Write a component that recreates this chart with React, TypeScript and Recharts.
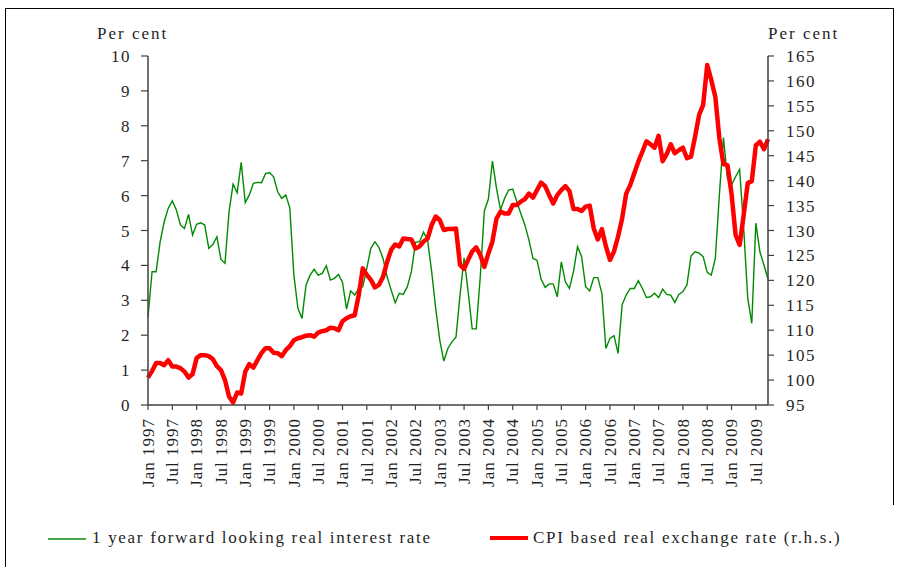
import { CartesianGrid, Line, LineChart, XAxis, YAxis } from "recharts";

const MONTHS = ["Jan", "Feb", "Mar", "Apr", "May", "Jun", "Jul", "Aug", "Sep", "Oct", "Nov", "Dec"];
const FIRST_YEAR = 1997;

// 1 year forward looking real interest rate, per cent (left axis), Jan 1997 - Oct 2009
const realRate = [
  2.53, 3.82, 3.82, 4.68, 5.25, 5.64, 5.85, 5.59, 5.16, 5.06, 5.46, 4.87,
  5.18, 5.22, 5.16, 4.49, 4.6, 4.82, 4.17, 4.06, 5.54, 6.33, 6.08, 6.95,
  5.8, 6.02, 6.35, 6.38, 6.37, 6.63, 6.66, 6.54, 6.11, 5.92, 6.02, 5.64,
  3.72, 2.77, 2.48, 3.44, 3.72, 3.89, 3.72, 3.77, 3.99, 3.58, 3.63, 3.74,
  3.51, 2.75, 3.27, 3.15, 3.34, 3.39, 3.92, 4.49, 4.68, 4.51, 4.2, 3.68,
  3.3, 2.93, 3.2, 3.17, 3.39, 3.82, 4.66, 4.68, 4.95, 4.73, 3.82, 2.77,
  1.86, 1.26, 1.62, 1.81, 1.94, 3.15, 4.22, 3.25, 2.18, 2.18, 3.68, 5.56,
  5.9, 6.99, 6.21, 5.59, 5.92, 6.16, 6.19, 5.83, 5.49, 5.16, 4.73, 4.2,
  4.15, 3.61, 3.37, 3.47, 3.47, 3.1, 4.1, 3.53, 3.34, 3.82, 4.54, 4.25,
  3.39, 3.27, 3.65, 3.65, 3.2, 1.62, 1.91, 1.99, 1.48, 2.87, 3.15, 3.34,
  3.34, 3.56, 3.34, 3.08, 3.1, 3.2, 3.08, 3.32, 3.17, 3.15, 2.94, 3.17,
  3.25, 3.44, 4.27, 4.39, 4.35, 4.25, 3.8, 3.72, 4.2, 6.02, 7.66, 6.49,
  6.3, 6.54, 6.75, 5.06, 3.06, 2.34, 5.21, 4.39, 4.01, 3.61,
];

// CPI based real exchange rate (right axis)
const realExchange = [
  100.5, 101.8, 103.4, 103.4, 103.0, 104.0, 102.7, 102.7, 102.4, 101.7, 100.5, 101.2,
  104.4, 105.0, 105.0, 104.8, 104.2, 102.8, 102.0, 100.0, 96.7, 95.5, 97.5, 97.3,
  101.7, 103.2, 102.5, 104.0, 105.4, 106.4, 106.4, 105.5, 105.4, 104.8, 106.0, 106.8,
  108.0, 108.4, 108.6, 108.9, 109.0, 108.7, 109.5, 109.8, 110.0, 110.5, 110.4, 110.0,
  111.8, 112.4, 112.8, 113.0, 117.0, 122.4, 121.1, 120.1, 118.6, 119.1, 120.7, 123.7,
  126.1, 127.2, 126.8, 128.4, 128.3, 128.2, 126.4, 126.8, 127.8, 128.4, 131.1, 132.8,
  132.1, 130.1, 130.3, 130.3, 130.4, 123.1, 122.3, 124.1, 125.8, 126.6, 125.1, 122.7,
  125.4, 127.8, 132.4, 133.8, 133.4, 133.4, 135.1, 135.1, 135.8, 136.3, 137.4, 136.6,
  138.1, 139.6, 138.9, 137.1, 135.4, 137.1, 138.1, 138.9, 137.9, 134.3, 134.3, 133.9,
  134.8, 135.0, 130.4, 128.2, 130.3, 126.8, 124.1, 125.8, 128.8, 132.4, 137.4, 139.1,
  141.5, 143.8, 145.8, 147.9, 147.3, 146.6, 149.0, 143.9, 145.3, 147.3, 145.5, 146.1,
  146.6, 144.5, 144.8, 148.8, 153.2, 155.2, 163.2, 160.2, 156.8, 148.5, 143.3, 143.1,
  137.4, 129.1, 127.1, 133.1, 139.5, 139.9, 147.1, 147.8, 146.3, 148.3,
];

const months = realRate.map((_, i) => `${MONTHS[i % 12]} ${FIRST_YEAR + Math.floor(i / 12)}`);

const leftTicks = [0, 1, 2, 3, 4, 5, 6, 7, 8, 9, 10];
const rightTicks = [95, 100, 105, 110, 115, 120, 125, 130, 135, 140, 145, 150, 155, 160, 165];

const rateName = "1 year forward looking real interest rate";
const exchangeName = "CPI based real exchange rate (r.h.s.)";

const data = months.map((m, i) => ({ month: m, rate: realRate[i], rer: realExchange[i] }));

const FONT = "'Liberation Serif', 'DejaVu Serif', serif";
const TEXT = "#1f1f1f";
const AXIS = "#404040";

const tickStyle = { fontSize: 17, fill: TEXT, fontFamily: FONT, letterSpacing: 1.5 };

function MonthTick({ x, y, payload }: any) {
  return (
    <text
      x={x}
      y={y}
      transform={`rotate(-90, ${x}, ${y})`}
      textAnchor="end"
      dy="0.34em"
      fontSize={17}
      fill={TEXT}
      fontFamily={FONT}
      letterSpacing={1}
    >
      {payload.value}
    </text>
  );
}

export default function App() {
  return (
    <div
      style={{
        position: "absolute",
        left: 0,
        top: 0,
        width: 906,
        height: 567,
        background: "#fff",
        fontFamily: FONT,
        color: TEXT,
      }}
    >
      {/* frame */}
      <div style={{ position: "absolute", left: 5, top: 8, width: 1, height: 559, background: "#000" }} />
      <div style={{ position: "absolute", left: 5, top: 8, width: 889, height: 1, background: "#000" }} />
      <div style={{ position: "absolute", left: 893, top: 8, width: 1, height: 497, background: "#000" }} />

      <div style={{ position: "absolute", left: 97, top: 24, fontSize: 17, letterSpacing: 2 }}>Per cent</div>
      <div style={{ position: "absolute", left: 768, top: 24, fontSize: 17, letterSpacing: 2 }}>Per cent</div>

      <div style={{ position: "absolute", left: 0, top: 0 }}>
        <LineChart width={906} height={567} data={data} margin={{ top: 56, right: 0, bottom: 0, left: 0 }}>
          <CartesianGrid horizontal={false} vertical={false} />
          <XAxis
            dataKey="month"
            interval={5}
            height={162}
            tickSize={5}
            tickMargin={8}
            tick={<MonthTick />}
            axisLine={{ stroke: AXIS, strokeWidth: 1.5 }}
            tickLine={{ stroke: AXIS, strokeWidth: 1.2 }}
          />
          <YAxis
            yAxisId="left"
            width={148}
            domain={[0, 10]}
            ticks={leftTicks}
            interval={0}
            tickSize={7}
            tickMargin={10}
            tick={tickStyle}
            axisLine={{ stroke: AXIS, strokeWidth: 1.5 }}
            tickLine={{ stroke: AXIS, strokeWidth: 1.2 }}
          />
          <YAxis
            yAxisId="right"
            orientation="right"
            width={138}
            domain={[95, 165]}
            ticks={rightTicks}
            interval={0}
            tickSize={6}
            tickMargin={12}
            tick={tickStyle}
            axisLine={{ stroke: AXIS, strokeWidth: 1.5 }}
            tickLine={{ stroke: AXIS, strokeWidth: 1.2 }}
          />
          <Line
            yAxisId="left"
            type="linear"
            dataKey="rate"
            name={rateName}
            stroke="#008a00"
            strokeWidth={1.4}
            dot={false}
            isAnimationActive={false}
          />
          <Line
            yAxisId="right"
            type="linear"
            dataKey="rer"
            name={exchangeName}
            stroke="#ff0000"
            strokeWidth={4.5}
            strokeLinejoin="round"
            dot={false}
            isAnimationActive={false}
          />
        </LineChart>
      </div>

      {/* legend */}
      <div style={{ position: "absolute", left: 48, top: 538, width: 38, height: 2, background: "#4aa84a" }} />
      <div style={{ position: "absolute", left: 92, top: 528, fontSize: 17, letterSpacing: 1.7, whiteSpace: "nowrap" }}>
        {rateName}
      </div>
      <div style={{ position: "absolute", left: 490, top: 536, width: 38, height: 4, background: "#ff0000" }} />
      <div style={{ position: "absolute", left: 533, top: 528, fontSize: 17, letterSpacing: 1.7, whiteSpace: "nowrap" }}>
        {exchangeName}
      </div>
    </div>
  );
}
